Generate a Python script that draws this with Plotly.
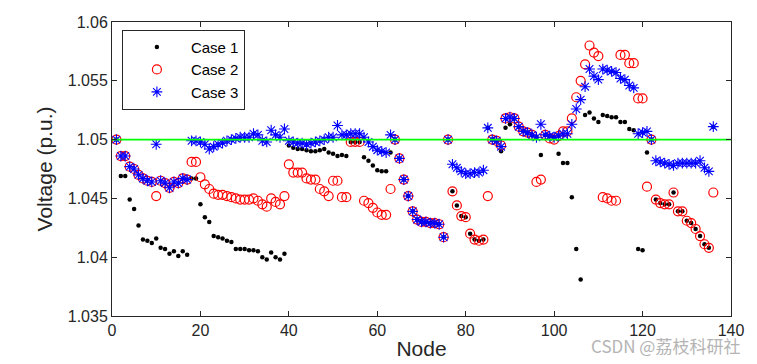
import plotly.graph_objects as go

nodes = list(range(1, 137))

case1 = [
    1.0500, 1.0469, 1.0469, 1.0449, 1.0441, 1.0427, 1.0415, 1.0414, 1.0412, 1.0416,
    1.0408, 1.0407, 1.0403, 1.0405, 1.0401, 1.0405, 1.0402, 1.0467, 1.0467, 1.0445,
    1.0434, 1.0430, 1.0418, 1.0417, 1.0416, 1.0414, 1.0413, 1.0407, 1.0407, 1.0407,
    1.0406, 1.0406, 1.0405, 1.0400, 1.0398, 1.0404, 1.0400, 1.0398, 1.0403, 1.0495,
    1.0493, 1.0492, 1.0492, 1.0491, 1.0490, 1.0490, 1.0491, 1.0492, 1.0489, 1.0488,
    1.0486, 1.0487, 1.0486, 1.0498, 1.0498, 1.0498, 1.0485, 1.0482, 1.0478, 1.0474,
    1.0473, 1.0473, 1.0489, 1.0500, 1.0484, 1.0466, 1.0452, 1.0439, 1.0432, 1.0430,
    1.0430, 1.0429, 1.0429, 1.0428, 1.0417, 1.0500, 1.0456, 1.0444, 1.0435, 1.0434,
    1.0420, 1.0415, 1.0414, 1.0415, 1.0510, 1.0500, 1.0499, 1.0490, 1.0510, 1.0513,
    1.0518, 1.0511, 1.0507, 1.0506, 1.0504, 1.0502, 1.0487, 1.0504, 1.0503, 1.0502,
    1.0488, 1.0480, 1.0480, 1.0451, 1.0407, 1.0381, 1.0521, 1.0523, 1.0518, 1.0515,
    1.0521, 1.0520, 1.0519, 1.0519, 1.0515, 1.0515, 1.0509, 1.0508, 1.0407, 1.0406,
    1.0489, 1.0500, 1.0449, 1.0446, 1.0445, 1.0445, 1.0455, 1.0439, 1.0439, 1.0431,
    1.0429, 1.0424, 1.0418, 1.0411, 1.0408, 1.0511,
]

case2 = [
    1.0500, 1.0486, 1.0486, 1.0477, 1.0475, 1.0470, 1.0467, 1.0465, 1.0464, 1.0452,
    1.0465, 1.0463, 1.0459, 1.0464, 1.0463, 1.0467, 1.0466, 1.0481, 1.0481, 1.0468,
    1.0462, 1.0458, 1.0454, 1.0453, 1.0453, 1.0452, 1.0451, 1.0450, 1.0449, 1.0449,
    1.0449, 1.0450, 1.0448, 1.0445, 1.0443, 1.0450, 1.0447, 1.0445, 1.0452, 1.0479,
    1.0472, 1.0472, 1.0472, 1.0467, 1.0466, 1.0466, 1.0458, 1.0456, 1.0452, 1.0465,
    1.0465, 1.0451, 1.0451, 1.0498, 1.0498, 1.0498, 1.0448, 1.0446, 1.0442, 1.0438,
    1.0436, 1.0436, 1.0458, 1.0500, 1.0484, 1.0466, 1.0452, 1.0439, 1.0432, 1.0430,
    1.0430, 1.0429, 1.0429, 1.0428, 1.0417, 1.0500, 1.0456, 1.0444, 1.0435, 1.0434,
    1.0420, 1.0415, 1.0414, 1.0415, 1.0452, 1.0500, 1.0499, 1.0495, 1.0518, 1.0519,
    1.0518, 1.0511, 1.0507, 1.0506, 1.0504, 1.0464, 1.0466, 1.0504, 1.0501, 1.0500,
    1.0503, 1.0507, 1.0507, 1.0518, 1.0536, 1.0550, 1.0564, 1.0580, 1.0574, 1.0571,
    1.0451, 1.0450, 1.0448, 1.0448, 1.0572, 1.0572, 1.0565, 1.0565, 1.0535, 1.0535,
    1.0460, 1.0500, 1.0449, 1.0446, 1.0445, 1.0445, 1.0455, 1.0439, 1.0439, 1.0431,
    1.0429, 1.0424, 1.0418, 1.0411, 1.0408, 1.0455,
]

case3 = [
    1.0500, 1.0486, 1.0486, 1.0477, 1.0475, 1.0470, 1.0467, 1.0465, 1.0464, 1.0496,
    1.0465, 1.0463, 1.0459, 1.0464, 1.0463, 1.0467, 1.0466, 1.0499, 1.0499, 1.0498,
    1.0496, 1.0492, 1.0494, 1.0496, 1.0497, 1.0499, 1.0500, 1.0501, 1.0502, 1.0502,
    1.0502, 1.0505, 1.0504, 1.0499, 1.0498, 1.0508, 1.0504, 1.0502, 1.0509, 1.0499,
    1.0498, 1.0497, 1.0497, 1.0496, 1.0497, 1.0498, 1.0499, 1.0500, 1.0502, 1.0502,
    1.0512, 1.0504, 1.0504, 1.0505, 1.0505, 1.0505, 1.0502, 1.0498, 1.0494, 1.0491,
    1.0490, 1.0489, 1.0504, 1.0500, 1.0484, 1.0466, 1.0452, 1.0439, 1.0432, 1.0430,
    1.0430, 1.0429, 1.0429, 1.0428, 1.0417, 1.0500, 1.0479, 1.0476, 1.0473, 1.0471,
    1.0471, 1.0472, 1.0472, 1.0474, 1.0510, 1.0500, 1.0499, 1.0494, 1.0518, 1.0519,
    1.0518, 1.0511, 1.0507, 1.0506, 1.0504, 1.0502, 1.0513, 1.0504, 1.0503, 1.0502,
    1.0503, 1.0505, 1.0505, 1.0513, 1.0526, 1.0534, 1.0545, 1.0560, 1.0554, 1.0551,
    1.0560, 1.0559, 1.0558, 1.0557, 1.0552, 1.0551, 1.0546, 1.0544, 1.0505, 1.0506,
    1.0507, 1.0500, 1.0482, 1.0481, 1.0480, 1.0479, 1.0478, 1.0480, 1.0480, 1.0480,
    1.0480, 1.0480, 1.0482, 1.0476, 1.0473, 1.0511,
]

reference_x = [0, 140]
reference_v = [1.05, 1.05]

x_ticks = [0, 20, 40, 60, 80, 100, 120, 140]
y_ticks = [1.035, 1.04, 1.045, 1.05, 1.055, 1.06]
y_tick_labels = ["1.035", "1.04", "1.045", "1.05", "1.055", "1.06"]
series_names = ["Case 1", "Case 2", "Case 3"]

axis_color = "#262626"
font_family = "Liberation Sans, Arial, Helvetica, sans-serif"

fig = go.Figure()

fig.add_trace(go.Scatter(
    x=nodes, y=case1, mode="markers", name=series_names[0],
    marker=dict(symbol="circle", size=4.5, color="black"),
))
fig.add_trace(go.Scatter(
    x=nodes, y=case2, mode="markers", name=series_names[1],
    marker=dict(symbol="circle-open", size=9, color="red", line=dict(width=1.2, color="red")),
))
fig.add_trace(go.Scatter(
    x=nodes, y=case3, mode="markers", name=series_names[2],
    marker=dict(symbol="asterisk-open", size=9, color="blue", line=dict(width=1.1, color="blue")),
))
fig.add_trace(go.Scatter(
    x=reference_x, y=reference_v, mode="lines", showlegend=False,
    line=dict(color="#00ff00", width=1.6), hoverinfo="skip",
))

fig.update_layout(
    width=757, height=364,
    margin=dict(l=104, r=34, t=14, b=56, autoexpand=False),
    paper_bgcolor="white", plot_bgcolor="white",
    font=dict(family=font_family, size=16, color=axis_color),
    showlegend=True,
    legend=dict(
        x=0.016, y=0.974, xanchor="left", yanchor="top",
        bgcolor="white", bordercolor=axis_color, borderwidth=1,
        font=dict(size=15, color="black"),
        itemwidth=58, tracegroupgap=0,
    ),
    xaxis=dict(
        range=[0, 140], tickvals=x_ticks, showgrid=False, zeroline=False,
        showline=True, mirror="ticks", linecolor=axis_color, linewidth=1,
        ticks="inside", ticklen=5, tickcolor=axis_color,
        tickfont=dict(size=16), automargin=False,
        title=dict(text="Node", font=dict(size=21), standoff=3),
    ),
    yaxis=dict(
        range=[1.035, 1.06], tickvals=y_ticks, ticktext=y_tick_labels,
        showgrid=False, zeroline=False,
        showline=True, mirror="ticks", linecolor=axis_color, linewidth=1,
        ticks="inside", ticklen=5, tickcolor=axis_color,
        tickfont=dict(size=16), automargin=False,
        title=dict(text="Voltage (p.u.)", font=dict(size=21), standoff=9),
    ),
    annotations=[dict(
        text="CSDN @荔枝科研社", xref="paper", yref="paper",
        x=1.018, y=-0.15, xanchor="right", yanchor="bottom", showarrow=False,
        font=dict(family="Noto Sans CJK SC, sans-serif", size=17, color="#b4b4b4"),
    )],
)

fig.write_html("out.html")
